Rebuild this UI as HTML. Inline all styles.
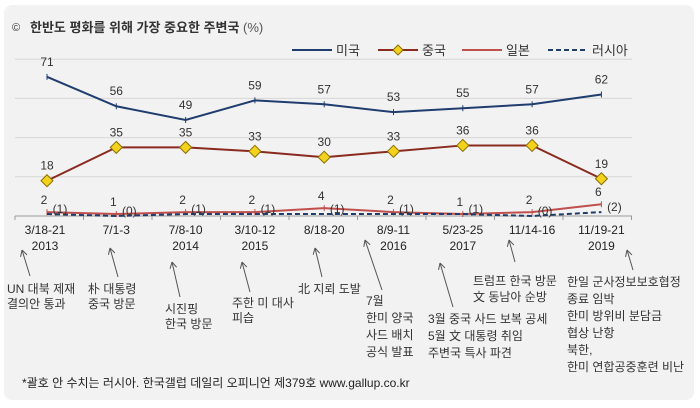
<!DOCTYPE html>
<html><head><meta charset="utf-8"><style>
body{margin:0;background:#fff;font-family:"Liberation Sans","Noto Sans CJK KR",sans-serif}
#wrap{position:relative;width:700px;height:408px;overflow:hidden}
.panel{position:absolute;left:4px;top:5px;width:690px;height:395px;background:#f2f2f2;border-radius:8px}
svg{position:absolute;left:0;top:0}
text{font-family:"Liberation Sans","Noto Sans CJK KR",sans-serif}
</style></head><body>
<div id="wrap">
<div class="panel"></div>
<svg id="chart" width="700" height="408">
<text x="12" y="31" font-size="11" fill="#333">©</text>
<text x="30" y="32" font-size="13" font-weight="bold" fill="#333">한반도 평화를 위해 가장 중요한 주변국 <tspan font-weight="normal" fill="#555">(%)</tspan></text>
<g id="legend"></g>
<g id="grid"></g>
<g id="series"></g>
<g id="xlabels"></g>
<g id="notes"></g>
<text x="22" y="387" font-size="12" fill="#222">*괄호 안 수치는 러시아. 한국갤럽 데일리 오피니언 제379호 www.gallup.co.kr</text>
</svg>
</div>
<script>
const categories=["3/18-21|2013","7/1-3","7/8-10|2014","3/10-12|2015","8/18-20","8/9-11|2016","5/23-25|2017","11/14-16","11/19-21|2019"];
const usValues=[71,56,49,59,57,53,55,57,62];
const chinaValues=[18,35,35,33,30,33,36,36,19];
const japanValues=[2,1,2,2,4,2,1,2,6];
const russiaValues=[1,0,1,1,1,1,1,0,2];
const gridTicks=[0,20,40,60,80];
const notes=[
 ["UN 대북 제재|결의안 통과",7,293,15,[22,250,30,276]],
 ["朴 대통령|중국 방문",88,293,15,[110,248,118,277]],
 ["시진핑|한국 방문",165,313,15,[172,262,180,297]],
 ["주한 미 대사|피습",232,307,15,[242,262,250,292]],
 ["北 지뢰 도발",298,293,15,[315,248,322,277]],
 ["7월|한미 양국|사드 배치|공식 발표",366,305,17,[365,240,382,290]],
 ["3월 중국 사드 보복 공세|5월 文 대통령 취임|주변국 특사 파견",428,323,17,[440,263,453,307]],
 ["트럼프 한국 방문|文 동남아 순방",473,285,16,[509,240,515,262]],
 ["한일 군사정보보호협정|종료 임박|한미 방위비 분담금|협상 난항|북한,|한미 연합공중훈련 비난",567,286,17,[627,250,633,270]]
];
const NS="http://www.w3.org/2000/svg";
const x0=47,dx=69.3,y0=216,ky=1.96;
const X=i=>x0+i*dx, Y=v=>y0-v*ky;
function el(t,a,p){const e=document.createElementNS(NS,t);for(const k in a)e.setAttribute(k,a[k]);p.appendChild(e);return e;}
const grid=document.getElementById('grid');
gridTicks.forEach(t=>{
 const l=el('line',{x1:15,x2:632,y1:Y(t),y2:Y(t),stroke:t===0?'#999':'#d6d6d6','stroke-width':1},grid);
 
 
});
for(let i=0;i<=9;i++){const t=el('line',{x1:15+i*68.5,x2:15+i*68.5,y1:y0,y2:y0+4,stroke:'#999'},grid);
 
 }
const sg=document.getElementById('series');
function series(vals,color,name,opts){
 const g=el('g',{},sg);
 
 
 const p=el('polyline',{points:vals.map((v,i)=>X(i)+','+Y(v)).join(' '),fill:'none',stroke:color,'stroke-width':opts.w||2,'stroke-dasharray':opts.dash||''},g);
 
 
 vals.forEach((v,i)=>{
  let m;
  if(opts.diamond){m=el('polygon',{points:`${X(i)},${Y(v)-6} ${X(i)+6},${Y(v)} ${X(i)},${Y(v)+6} ${X(i)-6},${Y(v)}`,fill:'#f2d21c',stroke:'#8a6d00','stroke-width':1},g);}
  else if(opts.tick){m=el('line',{x1:X(i),x2:X(i),y1:Y(v)-3,y2:Y(v)+3,stroke:color,'stroke-width':1},g);}
  if(m){}
  if(opts.label){
   const tx=el('text',{x:X(i)+(opts.lx||0),y:Y(v)+(opts.ly||-10),'font-size':12,fill:'#333','text-anchor':'middle'},g);
   tx.textContent=opts.fmt?opts.fmt(v):v;
   
   
  }
 });
}
series(usValues,'#1f3d6e','us',{tick:true,label:true,ly:-11});
series(chinaValues,'#8b2a1e',"china",{diamond:true,label:true,ly:-11});
series(japanValues,'#c0504d','japan',{tick:true,label:true,ly:-8,lx:-3});
series(russiaValues,'#1f3d6e','russia',{w:2,dash:'5,3',label:true,lx:13,ly:-1,fmt:v=>'('+v+')'});
const lg=document.getElementById('legend');
[["미국","#1f3d6e",292,"tick"],["중국","#8b2a1e",378,"diamond"],["일본","#c0504d",462,"tick"],["러시아","#1f3d6e",548,"dash"]].forEach(([n,c,x,t])=>{
 const g=el('g',{},lg);
 
 
 el('line',{x1:x,x2:x+40,y1:50,y2:50,stroke:c,'stroke-width':2,'stroke-dasharray':t==='dash'?'5,3':''},g);
 if(t==='diamond')el('polygon',{points:`${x+20},45 ${x+25},50 ${x+20},55 ${x+15},50`,fill:'#f2d21c',stroke:'#8a6d00'},g);
 const tx=el('text',{x:x+44,y:55,'font-size':13,fill:'#333'},g);tx.textContent=n;
});
const xl=document.getElementById('xlabels');
categories.forEach((c,i)=>{
 c.split('|').forEach((s,j)=>{const t=el('text',{x:X(i)+(i===0?-2:0),y:234+j*16,'font-size':12,fill:'#222','text-anchor':'middle'},xl);t.textContent=s;
 
 });
});
const ng=document.getElementById('notes');
notes.forEach(n=>{
 const [x1,y1,x2,y2]=n[4];
 const a=el('line',{x1:x2,y1:y2,x2:x1,y2:y1,stroke:'#555','stroke-width':1},ng);
 
 
 const ang=Math.atan2(y2-y1,x2-x1);
 [0.5,-0.5].forEach(d=>el('line',{x1:x1,y1:y1,x2:x1+7*Math.cos(ang+d),y2:y1+7*Math.sin(ang+d),stroke:'#555'},ng));
 n[0].split('|').forEach((s,j)=>{const t=el('text',{x:n[1],y:n[2]+j*n[3],'font-size':12,fill:'#333'},ng);t.textContent=s;
 
 });
});
</script>
</body></html>
